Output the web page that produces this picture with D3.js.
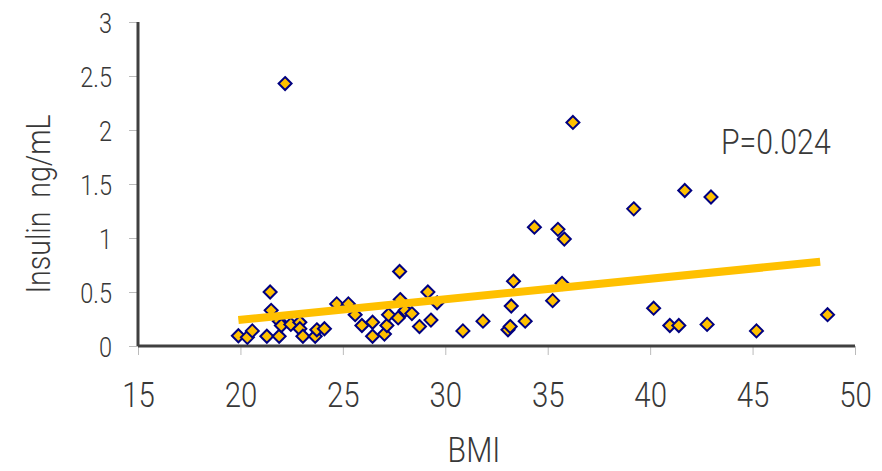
<!DOCTYPE html>
<html>
<head>
<meta charset="utf-8">
<script src="https://cdn.jsdelivr.net/npm/d3@7"></script>
<style>
  body { margin: 0; background: #fff; }
  text { font-family: Roboto, "Liberation Sans", sans-serif; font-weight: 300; fill: #383838; }
</style>
</head>
<body>
<div id="chart"></div>
<script>
// Scatter data
var bmi = [19.9, 20.34, 20.58, 21.29, 21.45, 21.5, 21.89, 21.9, 22.0, 22.18, 22.46, 22.9, 22.9, 23.05,
    23.65, 23.73, 24.1, 24.7, 25.27, 25.6, 25.93, 26.45, 26.45, 27.03, 27.15, 27.23, 27.7, 27.77, 27.8,
    28.04, 28.37, 28.74, 29.15, 29.3, 29.6, 30.86, 31.84, 33.06, 33.17, 33.22, 33.33, 33.9, 34.35,
    35.24, 35.5, 35.7, 35.81, 36.23, 39.2, 40.17, 40.96, 41.4, 41.69, 42.78, 42.97, 45.19, 48.66];
var insulin = [0.095, 0.08, 0.14, 0.09, 0.50, 0.33, 0.09, 0.23, 0.19, 2.43, 0.20, 0.22, 0.16, 0.09,
    0.09, 0.15, 0.16, 0.39, 0.39, 0.29, 0.19, 0.22, 0.09, 0.11, 0.19, 0.29, 0.26, 0.69, 0.43,
    0.33, 0.30, 0.18, 0.50, 0.24, 0.40, 0.14, 0.23, 0.15, 0.18, 0.37, 0.60, 0.23, 1.10,
    0.42, 1.08, 0.58, 0.99, 2.07, 1.27, 0.35, 0.19, 0.19, 1.44, 0.20, 1.38, 0.14, 0.29];

// Trend line end points
var trendX = [19.9, 48.3];
var trendY = [0.24, 0.78];

var xTicks = [15, 20, 25, 30, 35, 40, 45, 50];
var yTicks = [0, 0.5, 1, 1.5, 2, 2.5, 3];

var W = 882, H = 471;
var margin = {top: 22, right: 27, bottom: 125, left: 138};
var w = W - margin.left - margin.right;
var h = H - margin.top - margin.bottom;
var squeeze = 0.84; // narrow look of the original font

var svg = d3.select("#chart").append("svg")
    .attr("width", W)
    .attr("height", H);

var g = svg.append("g")
    .attr("transform", "translate(" + margin.left + "," + margin.top + ")");

var xScale = d3.scaleLinear().domain([15, 50]).range([0, w]);
var yScale = d3.scaleLinear().domain([0, 3]).range([h, 0]);

// x axis
var xAxis = g.append("g")
    .call(d3.axisBottom(xScale).tickValues(xTicks).tickSize(9))
    .attr("transform", "translate(0," + h + ")");
xAxis.selectAll(".tick line").attr("stroke", "#bbb");
xAxis.selectAll(".tick text")
    .attr("y", null).attr("dy", null)
    .attr("font-size", "35px")
    .attr("transform", "translate(0,61) scale(" + squeeze + ",1)");
xAxis.select(".domain").remove();

// y axis
var yAxis = g.append("g")
    .call(d3.axisLeft(yScale).tickValues(yTicks).tickSize(9).tickFormat(d3.format("")));
yAxis.selectAll(".tick line").attr("stroke", "#bbb");
yAxis.selectAll(".tick text")
    .attr("x", null).attr("dy", null)
    .attr("font-size", "28px")
    .attr("transform", "translate(-26,10) scale(" + squeeze + ",1)");
yAxis.select(".domain").remove();

// heavy axis lines
g.append("line")
    .attr("x1", 0).attr("x2", 0)
    .attr("y1", 0).attr("y2", h)
    .attr("stroke", "#404040").attr("stroke-width", 3);
g.append("line")
    .attr("x1", 0).attr("x2", w)
    .attr("y1", h).attr("y2", h)
    .attr("stroke", "#404040").attr("stroke-width", 3);

// points
var diamond = d3.symbol().type(d3.symbolDiamond2).size(108);
g.selectAll("path.pt")
    .data(bmi)
    .enter()
    .append("path")
    .attr("class", "pt")
    .attr("d", diamond)
    .attr("transform", function(d, i) { return "translate(" + xScale(d) + "," + yScale(insulin[i]) + ")"; })
    .attr("fill", "#FFC000")
    .attr("stroke", "#000080")
    .attr("stroke-width", 2);

// trend line on top
g.append("path")
    .datum(d3.zip(trendX, trendY))
    .attr("d", d3.line()
        .x(function(d) { return xScale(d[0]); })
        .y(function(d) { return yScale(d[1]); }))
    .attr("fill", "none")
    .attr("stroke", "#FFC000")
    .attr("stroke-width", 8);

// labels
svg.append("text")
    .attr("transform", "translate(721,154) scale(" + squeeze + ",1)")
    .attr("font-size", "36px")
    .text("P=0.024");

svg.append("text")
    .attr("transform", "translate(474,462) scale(" + squeeze + ",1)")
    .attr("text-anchor", "middle")
    .attr("font-size", "36px")
    .text("BMI");

svg.append("text")
    .attr("transform", "translate(50,204) rotate(-90) scale(" + squeeze + ",1)")
    .attr("text-anchor", "middle")
    .attr("font-size", "34px")
    .style("white-space", "pre")
    .text("Insulin  ng/mL");
</script>
</body>
</html>
